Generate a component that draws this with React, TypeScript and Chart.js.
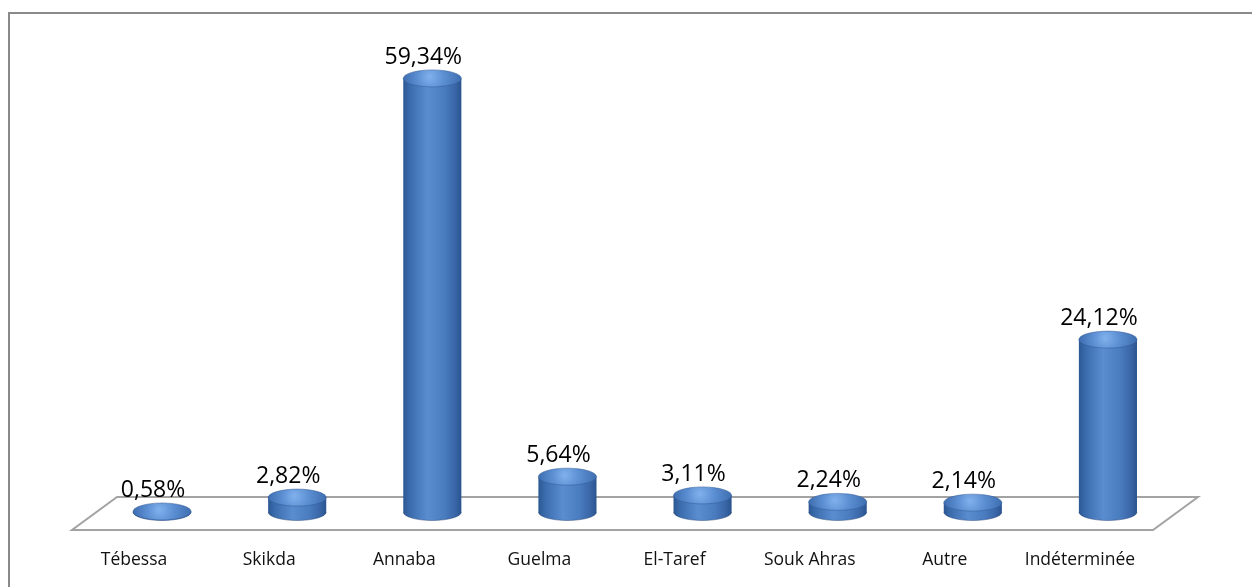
import React, { useEffect, useRef } from "react";
import { Chart, registerables } from "chart.js";

Chart.register(...registerables);

const categories = ["Tébessa", "Skikda", "Annaba", "Guelma", "El-Taref", "Souk Ahras", "Autre", "Indéterminée"];
const values = [0.58, 2.82, 59.34, 5.64, 3.11, 2.24, 2.14, 24.12];
const valueLabels = ["0,58%", "2,82%", "59,34%", "5,64%", "3,11%", "2,24%", "2,14%", "24,12%"];

const FONT = "'Open Sans', 'Noto Sans', sans-serif";

function drawCylinder(ctx: CanvasRenderingContext2D, cx: number, rx: number, ry: number, yBottom: number, yTop: number) {
  if (yTop > yBottom - 0.5) yTop = yBottom - 0.5;
  const g = ctx.createLinearGradient(cx - rx, 0, cx + rx, 0);
  g.addColorStop(0, "#2c5894");
  g.addColorStop(0.12, "#3b6dae");
  g.addColorStop(0.42, "#5a8dd0");
  g.addColorStop(0.7, "#4a7dc0");
  g.addColorStop(0.9, "#3965a6");
  g.addColorStop(1, "#2a548e");
  ctx.save();
  ctx.beginPath();
  ctx.moveTo(cx - rx, yTop);
  ctx.lineTo(cx - rx, yBottom);
  ctx.ellipse(cx, yBottom, rx, ry, 0, Math.PI, 0, true);
  ctx.lineTo(cx + rx, yTop);
  ctx.closePath();
  ctx.fillStyle = g;
  ctx.fill();
  ctx.beginPath();
  ctx.ellipse(cx, yBottom, rx, ry, 0, 0, Math.PI, false);
  ctx.strokeStyle = "rgba(30,60,110,0.45)";
  ctx.lineWidth = 1;
  ctx.stroke();
  // cap
  const rg = ctx.createRadialGradient(cx - rx * 0.1, yTop - ry * 0.2, 1, cx, yTop, rx);
  rg.addColorStop(0, "#7fafeb");
  rg.addColorStop(0.45, "#5b8ed2");
  rg.addColorStop(1, "#3e6eb0");
  ctx.beginPath();
  ctx.ellipse(cx, yTop, rx, ry, 0, 0, Math.PI * 2);
  ctx.fillStyle = rg;
  ctx.fill();
  ctx.strokeStyle = "rgba(50,90,150,0.5)";
  ctx.lineWidth = 1;
  ctx.stroke();
  ctx.restore();
}

const cylinderPlugin = {
  id: "cylinders",
  beforeDatasetsDraw(chart: any) {
    const ctx: CanvasRenderingContext2D = chart.ctx;
    const area = chart.chartArea;
    const y0 = chart.scales.y.getPixelForValue(0);
    ctx.save();
    ctx.strokeStyle = "#8a8a8a";
    ctx.lineWidth = 2;
    ctx.beginPath();
    ctx.moveTo(9, chart.height);
    ctx.lineTo(9, 13);
    ctx.lineTo(chart.width, 13);
    ctx.stroke();
    const shift = 22.5;
    const backY = y0 - 13;
    const frontY = y0 + 20;
    ctx.strokeStyle = "#a3a3a3";
    ctx.lineWidth = 2;
    ctx.beginPath();
    ctx.moveTo(area.left + shift, backY);
    ctx.lineTo(area.right + shift, backY);
    ctx.lineTo(area.right - shift, frontY);
    ctx.lineTo(area.left - shift, frontY);
    ctx.closePath();
    ctx.stroke();
    ctx.restore();
  },
  afterDatasetsDraw(chart: any) {
    const ctx: CanvasRenderingContext2D = chart.ctx;
    const meta = chart.getDatasetMeta(0);
    const ry = 8.5;
    ctx.save();
    meta.data.forEach((el: any, i: number) => {
      const props = el.getProps(["x", "y", "base", "width"], true);
      const rx = props.width / 2;
      const yBottom = props.base + 2;
      const yTop = Math.min(props.y + ry, yBottom - 0.5);
      drawCylinder(ctx, props.x, rx, ry, yBottom, yTop);
      const topmost = yTop - ry;
      ctx.fillStyle = "#000";
      ctx.font = `23px ${FONT}`;
      ctx.textAlign = "center";
      ctx.textBaseline = "alphabetic";
      ctx.fillText(valueLabels[i], props.x - 9, topmost - 6);
      ctx.font = `17.5px ${FONT}`;
      ctx.fillStyle = "#111";
      ctx.fillText(categories[i], props.x - 28, 565);
    });
    ctx.restore();
  },
};

export default function App() {
  const ref = useRef<HTMLCanvasElement>(null);
  useEffect(() => {
    if (!ref.current) return;
    const chart = new Chart(ref.current, {
      type: "bar",
      data: {
        labels: categories,
        datasets: [
          {
            data: values,
            backgroundColor: "rgba(0,0,0,0)",
            borderWidth: 0,
            barPercentage: 1,
            categoryPercentage: 0.43,
          },
        ],
      },
      options: {
        responsive: false,
        maintainAspectRatio: false,
        animation: false,
        layout: { padding: { left: 94.5, right: 76.5, top: 65, bottom: 77 } },
        plugins: { legend: { display: false }, tooltip: { enabled: false } },
        scales: {
          x: { display: false, offset: true },
          y: { display: false, min: 0, max: 60 },
        },
      },
      plugins: [cylinderPlugin],
    });
    return () => chart.destroy();
  }, []);
  return (
    <div style={{ position: "fixed", left: 0, top: 0, width: 1252, height: 587, background: "#fff" }}>
      <canvas ref={ref} width={1252} height={587} style={{ display: "block" }} />
    </div>
  );
}
